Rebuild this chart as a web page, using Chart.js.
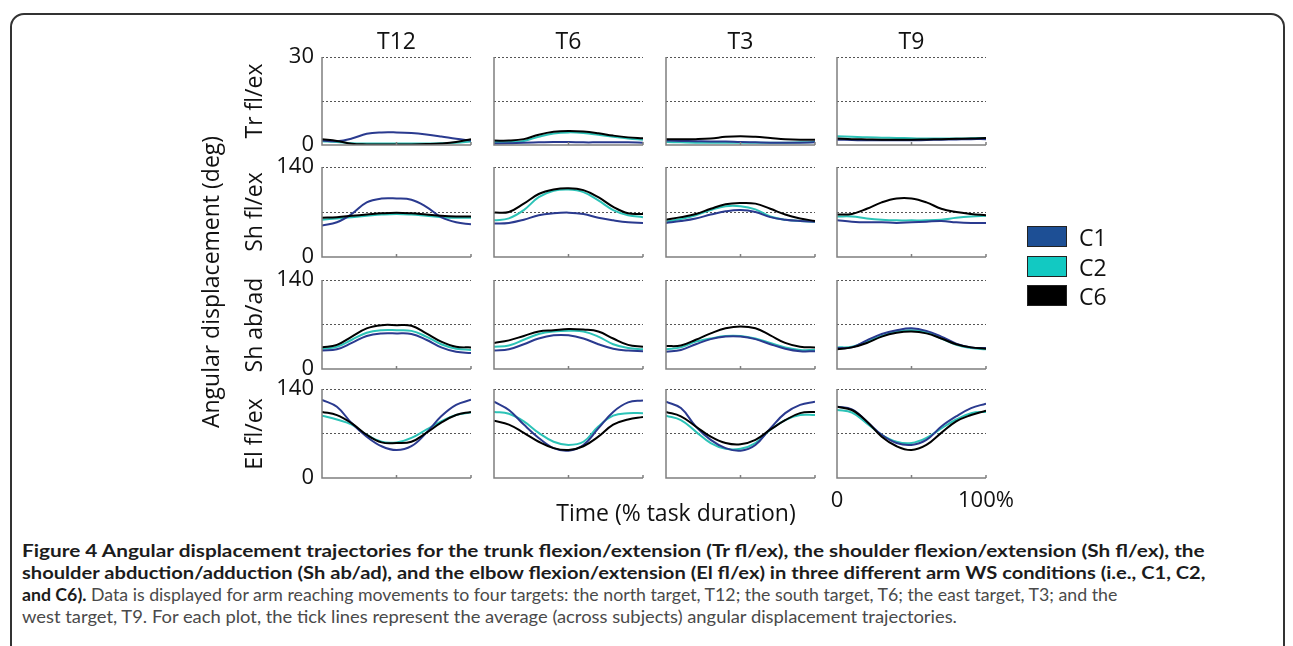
<!DOCTYPE html>
<html>
<head>
<meta charset="utf-8">
<script src="https://cdn.jsdelivr.net/npm/chart.js@4.4.0/dist/chart.umd.min.js"></script>
<style>
  body { margin: 0; background: #fff; font-family: 'Open Sans', 'Noto Sans', sans-serif; }
  #page { position: relative; width: 1293px; height: 646px; overflow: hidden; background: #fff; }
  #frame { position: absolute; left: 10px; top: 13px; width: 1271px; height: 700px;
           border: 2px solid #333; border-radius: 14px; }
  .lbl { position: absolute; font-size: 23px; color: #111; white-space: nowrap; }
  .ctr { transform: translate(-50%, -50%); }
  .rot { transform: translate(-50%, -50%) rotate(-90deg); }
  canvas { position: absolute; }
  .box { position: absolute; width: 38px; height: 19px; border: 1.5px solid #222; }
  .cap { position: absolute; left: 22px; font-family: Lato, sans-serif; font-size: 16.5px; line-height: 22px;
         white-space: nowrap; color: #4a4a4a; transform-origin: 0 50%; }
  .cap b { color: #1c1c1c; }
</style>
</head>
<body>
<div id="page">
  <div id="frame"></div>
</div>
<script>
// ---- data (degrees) ----
const targets = ['T12', 'T6', 'T3', 'T9'];
const rowNames = ['Tr fl/ex', 'Sh fl/ex', 'Sh ab/ad', 'El fl/ex'];
const conditions = ['C1', 'C2', 'C6'];
const timePct = [0, 10, 20, 30, 40, 50, 60, 70, 80, 90, 100];
const yMax = [30, 140, 140, 140];

// trunk flexion/extension, one array per target (T12, T6, T3, T9)
const trC1 = [
    [1.5, 1.3, 2.2, 3.8, 4.3, 4.3, 4.1, 3.6, 2.9, 2.1, 1.5],
    [0.5, 0.6, 0.8, 0.9, 1.0, 1.0, 0.9, 0.9, 0.9, 0.9, 0.8],
    [1.5, 1.4, 1.3, 1.2, 1.2, 1.0, 0.9, 0.8, 0.8, 0.8, 0.9],
    [1.8, 1.7, 1.6, 1.6, 1.6, 1.6, 1.7, 1.8, 1.9, 2.0, 2.0]
];
const trC2 = [
    [1.3, 1.0, 0.6, 0.5, 0.5, 0.5, 0.5, 0.5, 0.6, 0.8, 1.2],
    [1.0, 1.0, 1.4, 2.8, 3.9, 4.3, 4.1, 3.5, 2.8, 2.2, 1.8],
    [1.0, 0.9, 0.8, 0.8, 0.8, 0.8, 0.8, 0.8, 0.8, 0.9, 1.0],
    [3.0, 2.8, 2.6, 2.5, 2.4, 2.3, 2.2, 2.2, 2.2, 2.3, 2.4]
];
const trC6 = [
    [2.0, 1.4, 0.4, 0.2, 0.2, 0.2, 0.2, 0.3, 0.5, 1.0, 2.0],
    [1.5, 1.5, 2.0, 3.5, 4.5, 4.8, 4.6, 4.0, 3.2, 2.6, 2.3],
    [2.0, 2.0, 2.0, 2.2, 2.8, 3.0, 2.8, 2.4, 2.0, 1.8, 1.8],
    [2.2, 2.0, 1.9, 1.8, 1.8, 1.8, 1.9, 2.0, 2.1, 2.2, 2.4]
];

// shoulder flexion/extension
const sfC1 = [
    [49, 54, 67, 85, 91, 91, 89, 78, 62, 54, 51],
    [52, 53, 58, 65, 68, 69, 67, 61, 57, 54, 53],
    [53, 56, 60, 66, 71, 73, 70, 62, 58, 56, 55],
    [57, 55, 54, 54, 53, 54, 55, 56, 54, 53, 53]
];
const sfC2 = [
    [58, 60, 62, 64, 66, 67, 66, 64, 62, 61, 61],
    [57, 60, 73, 93, 103, 105, 101, 88, 73, 65, 62],
    [55, 59, 65, 73, 79, 79, 74, 63, 58, 56, 55],
    [63, 63, 60, 58, 57, 57, 57, 58, 61, 63, 64]
];
const sfC6 = [
    [61, 62, 64, 66, 68, 69, 68, 66, 64, 63, 63],
    [69, 70, 83, 98, 105, 107, 104, 93, 78, 68, 67],
    [58, 62, 67, 75, 82, 84, 83, 75, 66, 60, 56],
    [66, 67, 75, 85, 91, 91, 85, 75, 70, 67, 65]
];

// shoulder abduction/adduction
const saC1 = [
    [29, 31, 41, 52, 56, 56, 55, 46, 34, 27, 25],
    [29, 31, 39, 48, 53, 53, 48, 39, 32, 29, 28],
    [27, 30, 39, 47, 51, 51, 47, 39, 32, 28, 28],
    [33, 34, 45, 55, 61, 64, 60, 51, 40, 34, 33]
];
const saC2 = [
    [32, 35, 46, 57, 61, 61, 60, 51, 39, 32, 30],
    [35, 37, 46, 55, 59, 60, 59, 51, 39, 33, 31],
    [31, 34, 43, 48, 52, 52, 48, 41, 34, 30, 30],
    [34, 35, 43, 52, 59, 61, 58, 48, 38, 33, 31]
];
const saC6 = [
    [34, 38, 51, 64, 69, 69, 68, 56, 43, 35, 34],
    [41, 45, 52, 59, 61, 63, 62, 59, 48, 38, 35],
    [36, 37, 46, 56, 64, 67, 64, 53, 41, 35, 34],
    [31, 34, 41, 51, 57, 59, 56, 48, 39, 34, 32]
];

// elbow flexion/extension
const efC1 = [
    [123, 112, 86, 65, 50, 44, 50, 71, 97, 115, 123],
    [120, 107, 84, 63, 47, 43, 52, 78, 104, 119, 122],
    [120, 110, 81, 60, 47, 43, 52, 78, 102, 115, 120],
    [112, 108, 89, 68, 55, 52, 60, 81, 97, 110, 117]
];
const efC2 = [
    [98, 92, 84, 68, 57, 56, 63, 76, 89, 99, 103],
    [104, 101, 89, 71, 57, 52, 57, 81, 98, 102, 102],
    [98, 91, 73, 55, 46, 46, 55, 76, 91, 99, 99],
    [107, 103, 86, 68, 57, 55, 63, 78, 92, 102, 104]
];
const efC6 = [
    [104, 99, 86, 68, 56, 55, 57, 71, 87, 99, 104],
    [90, 84, 71, 57, 47, 44, 50, 65, 84, 92, 96],
    [104, 97, 81, 65, 55, 53, 60, 76, 91, 102, 104],
    [112, 107, 89, 65, 50, 44, 52, 71, 89, 99, 106]
];

const rowSeries = [
    [trC1, trC2, trC6],
    [sfC1, sfC2, sfC6],
    [saC1, saC2, saC6],
    [efC1, efC2, efC6]
];
const lineColors = ['#2a3a8f', '#2cc3b7', '#000000'];
const legendColors = ['#1d4f95', '#12c9c2', '#000000'];
const drawOrder = [1, 2, 0];   // black on top

// ---- layout of the 4x4 grid ----
const colLeft = [322, 494, 666, 837];
const plotW = 149;
const rowTop = [57, 167, 280, 389];
const rowBottom = [145, 257, 369, 478];
// paddings bigger than what the tick labels ask for, so every plot area lands on the same pixels
const AXIS_W = 60, PAD_T = 26, PAD_R = 40, XH = 26, XH_LAST = 44;

// left + bottom axis lines with small inward ticks on the time axis
const axisLines = {
    id: 'axisLines',
    afterDatasetsDraw(chart) {
        const { ctx, chartArea: a, scales: { x } } = chart;
        ctx.save();
        ctx.strokeStyle = '#7f7f7f';
        ctx.lineWidth = 1.5;
        ctx.beginPath();
        ctx.moveTo(a.left, a.top);
        ctx.lineTo(a.left, a.bottom);
        ctx.lineTo(a.right, a.bottom);
        [50, 100].forEach(v => {
            const px = x.getPixelForValue(v);
            ctx.moveTo(px, a.bottom);
            ctx.lineTo(px, a.bottom - 3);
        });
        ctx.stroke();
        ctx.restore();
    }
};

const page = document.getElementById('page');

function addLabel(text, x, y, cls) {
    const d = document.createElement('div');
    d.className = 'lbl ' + cls;
    d.style.left = x + 'px';
    d.style.top = y + 'px';
    d.textContent = text;
    page.appendChild(d);
    return d;
}

function makePanel(r, c) {
    const max = yMax[r];
    const isLast = (r === 3 && c === 3);
    const xh = isLast ? XH_LAST : XH;
    const h = rowBottom[r] - rowTop[r];
    const cv = document.createElement('canvas');
    const w = AXIS_W + plotW + PAD_R;
    const ht = PAD_T + h + xh;
    cv.width = w; cv.height = ht;
    cv.style.width = w + 'px'; cv.style.height = ht + 'px';
    cv.style.left = (colLeft[c] - AXIS_W) + 'px';
    cv.style.top = (rowTop[r] - PAD_T) + 'px';
    page.appendChild(cv);

    const datasets = conditions.map((name, k) => ({
        label: name,
        data: timePct.map((t, i) => ({ x: t, y: rowSeries[r][k][c][i] })),
        borderColor: lineColors[k],
        borderWidth: 2,
        pointRadius: 0,
        tension: 0.4,
        fill: false,
        order: drawOrder[k]
    }));

    new Chart(cv, {
        type: 'line',
        data: { datasets: datasets },
        plugins: [axisLines],
        options: {
            responsive: false,
            animation: false,
            devicePixelRatio: 1,
            layout: { padding: { top: PAD_T, right: PAD_R, left: 0, bottom: 0 } },
            plugins: { legend: { display: false }, tooltip: { enabled: false } },
            scales: {
                x: {
                    type: 'linear', min: 0, max: 100,
                    afterBuildTicks: s => { s.ticks = [0, 50, 100].map(v => ({ value: v })); },
                    afterFit: s => { s.height = xh; },
                    grid: { display: false },
                    border: { display: false },
                    ticks: {
                        display: isLast, maxRotation: 0, autoSkip: false, padding: 2,
                        color: '#111', font: { family: 'Open Sans', size: 22 },
                        callback: v => (v === 0 ? '0' : v === 100 ? '100%' : '')
                    }
                },
                y: {
                    min: 0, max: max,
                    afterBuildTicks: s => { s.ticks = [0, max / 2, max].map(v => ({ value: v })); },
                    afterFit: s => { s.width = AXIS_W; },
                    grid: {
                        drawTicks: false, lineWidth: 1,
                        color: ctx => (ctx.tick && ctx.tick.value === 0 ? 'rgba(0,0,0,0)' : '#555')
                    },
                    border: { display: false, dash: [2, 2] },
                    ticks: {
                        display: c === 0, padding: 8, color: '#111',
                        font: { family: 'Open Sans', size: 22 },
                        callback: v => (v === max / 2 ? '' : String(v))
                    }
                }
            }
        }
    });
}

for (let r = 0; r < 4; r++) {
    for (let c = 0; c < 4; c++) makePanel(r, c);
}

// column titles and row titles
targets.forEach((t, c) => addLabel(t, colLeft[c] + plotW / 2, 40, 'ctr'));
rowNames.forEach((n, r) => addLabel(n, 253, (rowTop[r] + rowBottom[r]) / 2, 'rot'));
addLabel('Angular displacement (deg)', 210, 282, 'rot');
addLabel('Time (% task duration)', 676, 512, 'ctr');

// legend
conditions.forEach((name, k) => {
    const b = document.createElement('div');
    b.className = 'box';
    b.style.left = '1027px';
    b.style.top = (226 + k * 29.5) + 'px';
    b.style.background = legendColors[k];
    page.appendChild(b);
    addLabel(name, 1079, 237 + k * 29.5, '').style.transform = 'translateY(-50%)';
});

// caption
const capLines = [
    '<b>Figure 4 Angular displacement trajectories for the trunk flexion/extension (Tr fl/ex), the shoulder flexion/extension (Sh fl/ex), the</b>',
    '<b>shoulder abduction/adduction (Sh ab/ad), and the elbow flexion/extension (El fl/ex) in three different arm WS conditions (i.e., C1, C2,</b>',
    '<b>and C6).</b> Data is displayed for arm reaching movements to four targets: the north target, T12; the south target, T6; the east target, T3; and the',
    'west target, T9. For each plot, the tick lines represent the average (across subjects) angular displacement trajectories.'
];
const capEnds = [1205, 1205, 1117, 957];
const capDivs = capLines.map((html, i) => {
    const d = document.createElement('div');
    d.className = 'cap';
    d.style.top = (540 + i * 22) + 'px';
    d.innerHTML = html;
    page.appendChild(d);
    return d;
});
function fitCaption() {
    capDivs.forEach((d, i) => {
        const w = d.offsetWidth;
        d.style.transform = 'scaleX(' + ((capEnds[i] - 22) / w) + ')';
    });
}
fitCaption();
if (document.fonts) document.fonts.ready.then(fitCaption);
</script>
</body>
</html>
